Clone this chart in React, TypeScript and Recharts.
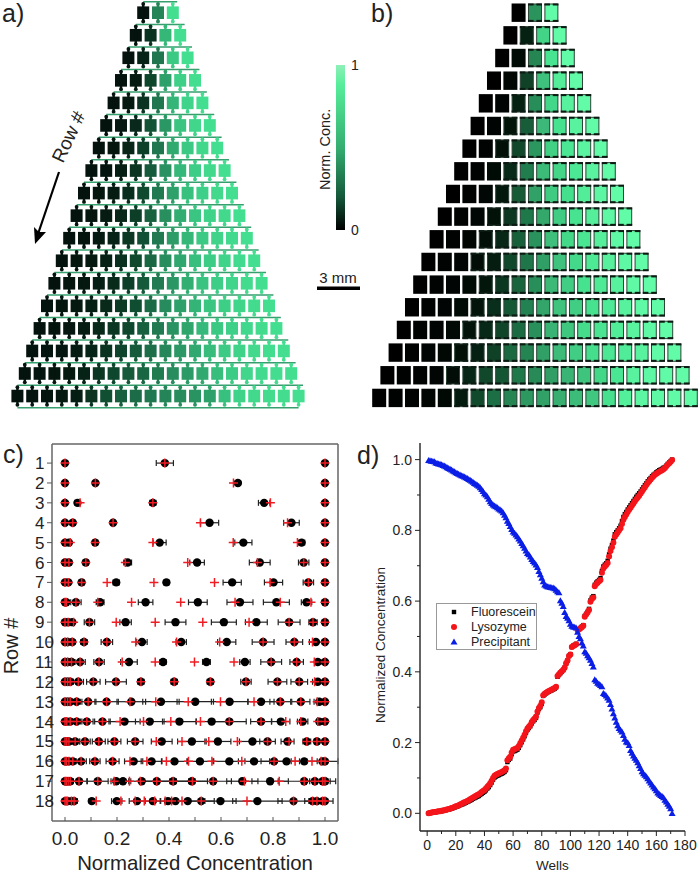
import React from "react";
import {
  Bar,
  BarChart,
  ErrorBar,
  Legend,
  ReferenceLine,
  Scatter,
  ScatterChart,
  XAxis,
  YAxis,
} from "recharts";

const FONT = '"Liberation Sans", Arial, sans-serif';
const INK = "#222";

// panel c: one list per row, wells from left to right
const measuredRows = [
  [0, 0.384, 1],
  [0, 0.117, 0.665, 1],
  [0, 0.048, 0.338, 0.766, 1],
  [0, 0.03, 0.185, 0.556, 0.871, 1],
  [0, 0.015, 0.116, 0.364, 0.686, 0.91, 1],
  [0, 0.015, 0.08, 0.241, 0.508, 0.749, 0.918, 1],
  [0, 0.013, 0.064, 0.197, 0.39, 0.643, 0.802, 0.936, 1],
  [0, 0.005, 0.042, 0.135, 0.31, 0.511, 0.673, 0.813, 0.929, 1],
  [0, 0.012, 0.028, 0.094, 0.233, 0.425, 0.611, 0.736, 0.862, 0.954, 1],
  [0, 0.01, 0.028, 0.073, 0.161, 0.296, 0.447, 0.622, 0.762, 0.882, 0.965, 1],
  [0, 0.01, 0.025, 0.058, 0.131, 0.246, 0.377, 0.544, 0.692, 0.793, 0.891, 0.972, 1],
  [0, 0.01, 0.02, 0.051, 0.109, 0.196, 0.292, 0.42, 0.559, 0.696, 0.817, 0.901, 0.972, 1],
  [0, 0.01, 0.02, 0.045, 0.089, 0.16, 0.255, 0.369, 0.501, 0.633, 0.754, 0.828, 0.907, 0.978, 1],
  [0, 0.007, 0.02, 0.045, 0.084, 0.144, 0.229, 0.326, 0.44, 0.564, 0.632, 0.754, 0.83, 0.914, 0.978, 1],
  [0, 0.007, 0.015, 0.039, 0.077, 0.13, 0.19, 0.27, 0.372, 0.488, 0.588, 0.721, 0.779, 0.856, 0.93, 0.969, 1],
  [0, 0.005, 0.015, 0.03, 0.062, 0.115, 0.183, 0.264, 0.333, 0.421, 0.519, 0.632, 0.727, 0.804, 0.852, 0.92, 0.99, 1],
  [0, 0.005, 0.012, 0.02, 0.054, 0.126, 0.197, 0.223, 0.295, 0.353, 0.416, 0.488, 0.57, 0.682, 0.789, 0.92, 0.961, 0.991, 1],
  [0, 0.005, 0.01, 0.025, 0.035, 0.103, 0.199, 0.277, 0.338, 0.396, 0.425, 0.472, 0.524, 0.598, 0.74, 0.879, 0.952, 0.969, 0.991, 1],
];

const measuredErrors = [
  [0, 0.033, 0],
  [0, 0.008, 0.01, 0],
  [0, 0.01, 0.012, 0.022, 0],
  [0, 0.01, 0.008, 0.035, 0.03, 0],
  [0, 0.01, 0.01, 0.025, 0.033, 0.012, 0],
  [0, 0.01, 0.01, 0.015, 0.028, 0.04, 0.02, 0],
  [0, 0.008, 0.01, 0.012, 0.01, 0.035, 0.035, 0.02, 0],
  [0, 0.005, 0.02, 0.015, 0.028, 0.036, 0.05, 0.05, 0.02, 0],
  [0, 0.01, 0.008, 0.02, 0.022, 0.04, 0.048, 0.042, 0.042, 0.016, 0],
  [0, 0.006, 0.01, 0.012, 0.022, 0.02, 0.02, 0.035, 0.042, 0.032, 0.025, 0],
  [0, 0.006, 0.012, 0.02, 0.02, 0.032, 0.012, 0.015, 0.02, 0.04, 0.026, 0.012, 0],
  [0, 0.006, 0.012, 0.02, 0.026, 0.04, 0.012, 0.012, 0.012, 0.02, 0.036, 0.032, 0.02, 0],
  [0, 0.006, 0.01, 0.02, 0.03, 0.045, 0.055, 0.07, 0.07, 0.07, 0.05, 0.04, 0.035, 0.02, 0],
  [0, 0.006, 0.01, 0.02, 0.024, 0.03, 0.06, 0.055, 0.065, 0.06, 0.065, 0.04, 0.035, 0.02, 0.01, 0],
  [0, 0.005, 0.01, 0.016, 0.02, 0.025, 0.025, 0.03, 0.04, 0.055, 0.05, 0.05, 0.03, 0.025, 0.015, 0.01, 0],
  [0, 0.005, 0.01, 0.012, 0.02, 0.02, 0.025, 0.035, 0.04, 0.05, 0.05, 0.06, 0.06, 0.05, 0.05, 0.05, 0.06, 0],
  [0, 0.005, 0.01, 0.012, 0.03, 0.04, 0.02, 0.03, 0.05, 0.05, 0.06, 0.06, 0.07, 0.06, 0.07, 0.1, 0.05, 0.05, 0],
  [0, 0.005, 0.01, 0.012, 0.012, 0.01, 0.02, 0.03, 0.03, 0.03, 0.04, 0.05, 0.05, 0.06, 0.095, 0.06, 0.03, 0.03, 0.04, 0],
];

const modelRows = [
  [0, 0.384, 1],
  [0, 0.117, 0.648, 1],
  [0, 0.058, 0.338, 0.79, 1],
  [0, 0.03, 0.185, 0.521, 0.856, 1],
  [0, 0.02, 0.116, 0.338, 0.647, 0.894, 1],
  [0, 0.015, 0.08, 0.232, 0.472, 0.74, 0.918, 1],
  [0, 0.013, 0.064, 0.162, 0.342, 0.575, 0.789, 0.936, 1],
  [0, 0.005, 0.042, 0.126, 0.256, 0.445, 0.654, 0.828, 0.946, 1],
  [0, 0.012, 0.033, 0.094, 0.197, 0.347, 0.53, 0.708, 0.862, 0.954, 1],
  [0, 0.01, 0.028, 0.073, 0.161, 0.272, 0.429, 0.595, 0.762, 0.882, 0.952, 1],
  [0, 0.01, 0.025, 0.058, 0.131, 0.22, 0.347, 0.498, 0.65, 0.793, 0.891, 0.959, 1],
  [0, 0.01, 0.02, 0.051, 0.109, 0.196, 0.292, 0.42, 0.559, 0.696, 0.817, 0.901, 0.96, 1],
  [0, 0.01, 0.02, 0.045, 0.089, 0.16, 0.25, 0.349, 0.474, 0.598, 0.727, 0.828, 0.907, 0.97, 1],
  [0, 0.007, 0.02, 0.045, 0.084, 0.144, 0.212, 0.302, 0.407, 0.521, 0.632, 0.754, 0.849, 0.907, 0.972, 1],
  [0, 0.007, 0.015, 0.039, 0.077, 0.13, 0.19, 0.27, 0.351, 0.45, 0.553, 0.663, 0.779, 0.862, 0.93, 0.969, 1],
  [0, 0.005, 0.015, 0.03, 0.062, 0.115, 0.183, 0.25, 0.315, 0.39, 0.475, 0.565, 0.68, 0.804, 0.885, 0.95, 0.985, 1],
  [0, 0.005, 0.012, 0.02, 0.054, 0.126, 0.189, 0.248, 0.29, 0.353, 0.416, 0.49, 0.57, 0.69, 0.824, 0.92, 0.961, 0.991, 1],
  [0, 0.005, 0.01, 0.025, 0.035, 0.12, 0.215, 0.27, 0.305, 0.345, 0.385, 0.41, 0.45, 0.524, 0.7, 0.879, 0.952, 0.969, 0.991, 1],
];

// panel d: wells 1 to 171
const lysozyme = [
  0, 0.001, 0.002, 0.003, 0.004, 0.004, 0.005, 0.006, 0.006, 0.007,
  0.008, 0.009, 0.01, 0.011, 0.012, 0.013, 0.015, 0.016, 0.018, 0.02,
  0.021, 0.023, 0.025, 0.027, 0.029, 0.031, 0.033, 0.035, 0.037, 0.04,
  0.042, 0.045, 0.047, 0.05, 0.052, 0.054, 0.057, 0.06, 0.063, 0.066,
  0.07, 0.075, 0.079, 0.085, 0.092, 0.1, 0.106, 0.109, 0.111, 0.113,
  0.115, 0.117, 0.119, 0.122, 0.127, 0.15, 0.156, 0.16, 0.172, 0.18,
  0.181, 0.183, 0.185, 0.19, 0.198, 0.206, 0.214, 0.222, 0.232, 0.24,
  0.245, 0.25, 0.258, 0.264, 0.268, 0.274, 0.288, 0.298, 0.304, 0.314,
  0.334, 0.338, 0.341, 0.344, 0.346, 0.348, 0.35, 0.352, 0.354, 0.358,
  0.388, 0.393, 0.398, 0.402, 0.406, 0.412, 0.424, 0.432, 0.445, 0.449,
  0.47, 0.473, 0.475, 0.478, 0.518, 0.52, 0.523, 0.526, 0.53, 0.556,
  0.562, 0.568, 0.575, 0.598, 0.606, 0.61, 0.642, 0.648, 0.652, 0.656,
  0.66, 0.68, 0.692, 0.698, 0.702, 0.708, 0.726, 0.742, 0.752, 0.765,
  0.782, 0.788, 0.794, 0.8, 0.806, 0.818, 0.83, 0.838, 0.845, 0.852,
  0.858, 0.864, 0.87, 0.876, 0.882, 0.888, 0.893, 0.898, 0.904, 0.91,
  0.916, 0.922, 0.928, 0.934, 0.939, 0.944, 0.949, 0.953, 0.957, 0.96,
  0.963, 0.966, 0.968, 0.97, 0.973, 0.976, 0.981, 0.986, 0.99, 0.994, 0.999,
];

const fluorescein = [
  0, 0.001, 0.002, 0.002, 0.003, 0.004, 0.004, 0.005, 0.006, 0.006,
  0.007, 0.008, 0.009, 0.01, 0.011, 0.012, 0.013, 0.015, 0.016, 0.018,
  0.019, 0.021, 0.023, 0.025, 0.026, 0.028, 0.03, 0.032, 0.034, 0.036,
  0.038, 0.041, 0.043, 0.045, 0.047, 0.049, 0.052, 0.055, 0.058, 0.061,
  0.065, 0.07, 0.074, 0.08, 0.087, 0.095, 0.101, 0.104, 0.106, 0.108,
  0.11, 0.112, 0.114, 0.117, 0.122, 0.145, 0.151, 0.155, 0.167, 0.175,
  0.176, 0.178, 0.18, 0.185, 0.193, 0.201, 0.209, 0.218, 0.228, 0.236,
  0.241, 0.246, 0.254, 0.26, 0.264, 0.27, 0.285, 0.295, 0.3, 0.31,
  0.332, 0.336, 0.339, 0.342, 0.344, 0.346, 0.348, 0.35, 0.352, 0.356,
  0.386, 0.391, 0.396, 0.4, 0.405, 0.411, 0.423, 0.432, 0.445, 0.45,
  0.47, 0.474, 0.476, 0.479, 0.518, 0.521, 0.524, 0.528, 0.532, 0.558,
  0.564, 0.57, 0.578, 0.602, 0.61, 0.614, 0.646, 0.652, 0.656, 0.66,
  0.665, 0.685, 0.698, 0.703, 0.707, 0.714, 0.732, 0.748, 0.758, 0.771,
  0.789, 0.795, 0.8, 0.806, 0.813, 0.826, 0.838, 0.846, 0.852, 0.859,
  0.865, 0.871, 0.877, 0.883, 0.889, 0.895, 0.9, 0.905, 0.91, 0.916,
  0.922, 0.928, 0.933, 0.939, 0.944, 0.948, 0.953, 0.957, 0.96, 0.964,
  0.967, 0.97, 0.972, 0.974, 0.977, 0.979, 0.983, 0.988, 0.992, 0.996, 1,
];

const precipitant = [
  0.998, 0.997, 0.996, 0.995, 0.994, 0.991, 0.989, 0.988, 0.987, 0.986,
  0.984, 0.982, 0.98, 0.977, 0.975, 0.973, 0.971, 0.968, 0.966, 0.963,
  0.961, 0.959, 0.957, 0.955, 0.953, 0.951, 0.949, 0.947, 0.944, 0.942,
  0.939, 0.936, 0.933, 0.931, 0.928, 0.925, 0.921, 0.916, 0.91, 0.904,
  0.9, 0.895, 0.888, 0.881, 0.876, 0.872, 0.869, 0.867, 0.864, 0.861,
  0.858, 0.855, 0.85, 0.843, 0.836, 0.826, 0.82, 0.811, 0.803, 0.796,
  0.792, 0.787, 0.782, 0.776, 0.77, 0.763, 0.757, 0.75, 0.742, 0.735,
  0.731, 0.725, 0.718, 0.712, 0.708, 0.702, 0.695, 0.684, 0.675, 0.665,
  0.655, 0.646, 0.643, 0.641, 0.64, 0.639, 0.638, 0.637, 0.635, 0.631,
  0.627, 0.624, 0.601, 0.594, 0.585, 0.568, 0.557, 0.552, 0.545, 0.535,
  0.529, 0.527, 0.526, 0.524, 0.512, 0.5, 0.494, 0.482, 0.473, 0.457,
  0.453, 0.446, 0.44, 0.433, 0.424, 0.414, 0.378, 0.374, 0.368, 0.365,
  0.362, 0.358, 0.339, 0.336, 0.332, 0.326, 0.32, 0.308, 0.295, 0.282,
  0.27, 0.258, 0.248, 0.24, 0.235, 0.23, 0.22, 0.21, 0.202, 0.2,
  0.192, 0.178, 0.17, 0.162, 0.156, 0.15, 0.143, 0.135, 0.127, 0.118,
  0.112, 0.108, 0.104, 0.098, 0.092, 0.086, 0.08, 0.075, 0.07, 0.064,
  0.058, 0.054, 0.051, 0.048, 0.044, 0.037, 0.032, 0.026, 0.02, 0.013, 0,
];

const rowTicks = measuredRows.map((_, i) => i + 1);
const concTicks = [0, 0.1, 0.2, 0.3, 0.4, 0.5, 0.6, 0.7, 0.8, 0.9, 1];
const wellTicks = [0, 10, 20, 30, 40, 50, 60, 70, 80, 90, 100, 110, 120, 130, 140, 150, 160, 170, 180];
const normTicks = [0, 0.1, 0.2, 0.3, 0.4, 0.5, 0.6, 0.7, 0.8, 0.9, 1];
const legendNames = ["Fluorescein", "Lysozyme", "Precipitant"];

const chipColors: [number, number[]][] = [
  [0, [4, 19, 13]],
  [0.2, [15, 74, 47]],
  [0.4, [39, 138, 92]],
  [0.7, [56, 192, 126]],
  [1, [68, 222, 144]],
];
const photoColors: [number, number[]][] = [
  [0, [0, 0, 0]],
  [0.1, [3, 25, 13]],
  [0.3, [31, 122, 75]],
  [0.5, [60, 184, 119]],
  [0.75, [70, 226, 143]],
  [1, [98, 251, 167]],
];

function mapColor(stops: [number, number[]][], v: number) {
  for (let i = 1; i < stops.length; i++) {
    if (v <= stops[i][0]) {
      const [a, ca] = stops[i - 1];
      const [b, cb] = stops[i];
      const t = (v - a) / (b - a);
      const c = ca.map((n, k) => Math.round(n + (cb[k] - n) * t));
      return `rgb(${c.join(",")})`;
    }
  }
  return "rgb(98,251,167)";
}

const wells = (rows: number[][]) =>
  rows.flatMap((vals, i) =>
    vals.map((v, j) => ({ x: j - (vals.length - 1) / 2, y: i + 1, v }))
  );

const dots = measuredRows.flatMap((vals, i) =>
  vals.map((x, j) => ({ x, y: i + 1, err: measuredErrors[i][j] }))
);
const crosses = modelRows.flatMap((vals, i) =>
  vals.map((x) => ({ x, y: i + 1 }))
);
const curve = (vals: number[]) => vals.map((y, i) => ({ x: i + 1, y }));

const ChipWell = (p: any) => {
  const c = mapColor(chipColors, p.payload.v);
  return (
    <g>
      <rect x={p.cx - 6} y={p.cy - 6.3} width={12} height={12.6} fill={c} />
      <rect x={p.cx - 1.2} y={p.cy - 10} width={2.4} height={20} fill={c} />
      <circle cx={p.cx} cy={p.cy - 8.8} r={1.9} fill={c} />
      <circle cx={p.cx} cy={p.cy + 8.8} r={1.9} fill={c} />
    </g>
  );
};

const PhotoWell = (p: any) => {
  const c = mapColor(photoColors, p.payload.v);
  if (p.payload.v <= 0.05) {
    return <rect x={p.cx - 7} y={p.cy - 9.2} width={14} height={18.4} fill={c} />;
  }
  return (
    <g>
      <rect x={p.cx - 6.5} y={p.cy - 8.7} width={13} height={17.4} fill={c} stroke="#2c4436" strokeWidth={1} />
      <rect x={p.cx - 7} y={p.cy - 9.2} width={5.6} height={2} fill="#0b1a12" />
      <rect x={p.cx + 1.4} y={p.cy - 9.2} width={5.6} height={2} fill="#0b1a12" />
      <rect x={p.cx - 7} y={p.cy + 7.2} width={5.6} height={2} fill="#0b1a12" />
      <rect x={p.cx + 1.4} y={p.cy + 7.2} width={5.6} height={2} fill="#0b1a12" />
    </g>
  );
};

const DotMark = (p: any) => <circle cx={p.cx} cy={p.cy} r={4.2} fill="#000" />;
const CrossMark = (p: any) => (
  <path
    d={`M${p.cx - 4.5},${p.cy}H${p.cx + 4.5}M${p.cx},${p.cy - 4.5}V${p.cy + 4.5}`}
    stroke="#f01c24"
    strokeWidth={1.5}
    fill="none"
  />
);
const SquareMark = (p: any) => (
  <rect x={p.cx - 2.2} y={p.cy - 2.2} width={4.4} height={4.4} fill="#000" />
);
const RoundMark = (p: any) => <circle cx={p.cx} cy={p.cy} r={3} fill="#f4151b" />;
const TriangleMark = (p: any) => (
  <path
    d={`M${p.cx},${p.cy - 3.4}L${p.cx + 3.5},${p.cy + 2.6}H${p.cx - 3.5}Z`}
    fill="#0a1ee6"
  />
);

const ConcTick = (p: any) => {
  const v = p.payload.value;
  const major = Math.round(v * 10) % 2 === 0;
  return (
    <g>
      <line x1={p.x} x2={p.x} y1={p.y - 4} y2={p.y} stroke="#555" />
      {major && (
        <text x={p.x} y={p.y + 24} textAnchor="middle" fontSize={19} fontFamily={FONT} fill={INK}>
          {v.toFixed(1)}
        </text>
      )}
    </g>
  );
};

const RowTick = (p: any) => (
  <g>
    <line x1={p.x - 5} x2={p.x} y1={p.y} y2={p.y} stroke="#555" />
    <text x={35} y={p.y + 6} fontSize={17} fontFamily={FONT} fill={INK}>
      {p.payload.value}
    </text>
  </g>
);

const WellTick = (p: any) => {
  const v = p.payload.value;
  const major = v % 20 === 0;
  return (
    <g>
      <line x1={p.x} x2={p.x} y1={p.y} y2={p.y + (major ? 5 : 3)} stroke={INK} />
      {major && (
        <text x={p.x} y={p.y + 19} textAnchor="middle" fontSize={14} fontFamily={FONT} fill={INK}>
          {v}
        </text>
      )}
    </g>
  );
};

const NormTick = (p: any) => {
  const v = p.payload.value;
  const major = Math.round(v * 10) % 2 === 0;
  return (
    <g>
      <line x1={p.x - (major ? 5 : 3)} x2={p.x} y1={p.y} y2={p.y} stroke={INK} />
      {major && (
        <text x={p.x - 8} y={p.y + 5} textAnchor="end" fontSize={14} fontFamily={FONT} fill={INK}>
          {v.toFixed(1)}
        </text>
      )}
    </g>
  );
};

const FigureLegend = () => (
  <div
    style={{
      width: 101,
      height: 47,
      boxSizing: "border-box",
      border: "1.5px solid #999",
      background: "#fff",
      fontFamily: FONT,
      fontSize: 12.5,
      color: INK,
      position: "relative",
    }}
  >
    {legendNames.map((name, i) => (
      <div key={name} style={{ position: "absolute", left: 34, top: 0.5 + i * 15.3, lineHeight: "15px" }}>
        {name}
      </div>
    ))}
    <svg width={30} height={45} style={{ position: "absolute", left: 0, top: 0 }}>
      <SquareMark cx={17} cy={8} />
      <RoundMark cx={17} cy={23} />
      <TriangleMark cx={17} cy={38} />
    </svg>
  </div>
);

export default function App() {
  return (
    <div style={{ position: "absolute", left: 0, top: 0, width: 698, height: 873, background: "#fff", overflow: "hidden" }}>
      {/* a) chip layout */}
      <div style={{ position: "absolute", left: 0, top: 0 }}>
        <ScatterChart width={320} height={430} margin={{ top: 0, right: 0, bottom: 0, left: 0 }}>
          <XAxis type="number" dataKey="x" hide domain={[-10.676, 10.946]} />
          <YAxis type="number" dataKey="y" hide reversed domain={[0.437, 19.506]} />
          {measuredRows.map((vals, i) => (
            <ReferenceLine
              key={i}
              stroke="#35a06e"
              strokeWidth={1.5}
              segment={[
                { x: -(vals.length - 1) / 2, y: i + 0.52 },
                { x: (vals.length - 1) / 2 + 0.3, y: i + 0.52 },
              ]}
            />
          ))}
          <ReferenceLine
            stroke="#35a06e"
            strokeWidth={1.5}
            segment={[
              { x: -9.5, y: 18.52 },
              { x: 9.5, y: 18.52 },
            ]}
          />
          <Scatter data={wells(modelRows)} shape={ChipWell} isAnimationActive={false} />
        </ScatterChart>
      </div>

      {/* b) photo of the filled chip */}
      <div style={{ position: "absolute", left: 360, top: 0 }}>
        <ScatterChart width={338} height={430} margin={{ top: 0, right: 0, bottom: 0, left: 0 }}>
          <XAxis type="number" dataKey="x" hide domain={[-10.67, 9.94]} />
          <YAxis type="number" dataKey="y" hide reversed domain={[0.44, 19.416]} />
          <Scatter data={wells(measuredRows)} shape={PhotoWell} isAnimationActive={false} />
        </ScatterChart>
      </div>

      {/* colour scale */}
      <div style={{ position: "absolute", left: 320, top: 55 }}>
        <BarChart
          width={50}
          height={185}
          data={[{ name: "scale", value: 1 }]}
          barCategoryGap={0}
          margin={{ top: 10, right: 0, bottom: 10, left: 16 }}
        >
          <defs>
            <linearGradient id="normScale" x1="0" y1="0" x2="0" y2="1">
              <stop offset="0" stopColor="#8ff0b8" />
              <stop offset="0.12" stopColor="#56ee9a" />
              <stop offset="0.5" stopColor="#34ae70" />
              <stop offset="0.8" stopColor="#14583a" />
              <stop offset="1" stopColor="#000" />
            </linearGradient>
          </defs>
          <XAxis dataKey="name" hide />
          <YAxis
            orientation="right"
            width={25}
            domain={[0, 1]}
            ticks={[0, 1]}
            axisLine={false}
            tickLine={false}
            tickMargin={0}
            tick={{ fontSize: 14, fontFamily: FONT, fill: INK }}
          />
          <Bar dataKey="value" fill="url(#normScale)" isAnimationActive={false} />
        </BarChart>
      </div>

      {/* c) concentration per row */}
      <div style={{ position: "absolute", left: 0, top: 440 }}>
        <ScatterChart width={350} height={433} margin={{ top: 4, right: 12, bottom: 0, left: 0 }}>
          <XAxis
            xAxisId="top"
            type="number"
            orientation="top"
            height={1}
            mirror
            domain={[-0.05, 1.05]}
            ticks={concTicks}
            tick={false}
            tickSize={4}
            stroke="#666"
            strokeWidth={1.5}
          />
          <YAxis
            yAxisId="right"
            type="number"
            orientation="right"
            width={1}
            mirror
            reversed
            domain={[0.04, 19]}
            ticks={rowTicks}
            tick={false}
            tickSize={4}
            stroke="#666"
            strokeWidth={1.5}
          />
          <XAxis
            type="number"
            dataKey="x"
            height={52}
            domain={[-0.05, 1.05]}
            ticks={concTicks}
            interval={0}
            tickLine={false}
            tickSize={0}
            tickMargin={0}
            tick={ConcTick}
            stroke="#666"
            strokeWidth={1.5}
            label={{ value: "Normalized Concentration", position: "insideBottom", offset: 3, fontSize: 20.4, fontFamily: FONT, fill: INK }}
          />
          <YAxis
            type="number"
            dataKey="y"
            width={52}
            reversed
            domain={[0.04, 19]}
            ticks={rowTicks}
            interval={0}
            tickLine={false}
            tickSize={0}
            tickMargin={0}
            stroke="#666"
            strokeWidth={1.5}
            tick={RowTick}
          />
          <Scatter data={dots} shape={DotMark} isAnimationActive={false}>
            <ErrorBar dataKey="err" direction="x" width={3} stroke="#222" strokeWidth={1.2} />
          </Scatter>
          <Scatter data={crosses} shape={CrossMark} isAnimationActive={false} />
        </ScatterChart>
      </div>

      {/* d) concentration per well */}
      <div style={{ position: "absolute", left: 370, top: 435 }}>
        <ScatterChart width={328} height={438} margin={{ top: 8, right: 13, bottom: 0, left: 0 }}>
          <XAxis
            type="number"
            dataKey="x"
            height={42}
            domain={[-5, 180]}
            ticks={wellTicks}
            interval={0}
            tickLine={false}
            tickSize={0}
            tickMargin={0}
            stroke={INK}
            strokeWidth={1.4}
            tick={WellTick}
            label={{ value: "Wells", position: "insideBottom", offset: 3, fontSize: 13.5, fontFamily: FONT, fill: INK }}
          />
          <YAxis
            type="number"
            dataKey="y"
            width={50}
            domain={[-0.05, 1.047]}
            ticks={normTicks}
            interval={0}
            tickLine={false}
            tickSize={0}
            tickMargin={0}
            stroke={INK}
            strokeWidth={1.4}
            tick={NormTick}
          />
          <Legend
            layout="vertical"
            align="center"
            verticalAlign="middle"
            content={FigureLegend}
            wrapperStyle={{ position: "absolute", left: 66, top: 168, width: 101 }}
          />
          <Scatter name="Fluorescein" data={curve(fluorescein)} shape={SquareMark} isAnimationActive={false} />
          <Scatter name="Lysozyme" data={curve(lysozyme)} shape={RoundMark} isAnimationActive={false} />
          <Scatter name="Precipitant" data={curve(precipitant)} shape={TriangleMark} isAnimationActive={false} />
        </ScatterChart>
      </div>

      {/* panel letters and annotations */}
      <svg width={698} height={873} style={{ position: "absolute", left: 0, top: 0, pointerEvents: "none" }} fontFamily={FONT} fill={INK}>
        <text x={2} y={22} fontSize={25}>a)</text>
        <text x={371} y={22} fontSize={25}>b)</text>
        <text x={3} y={463} fontSize={25}>c)</text>
        <text x={357} y={464} fontSize={25}>d)</text>
        <text x={0} y={0} fontSize={19} transform="translate(63,164) rotate(-65)">Row #</text>
        <line x1={59} y1={172} x2={38} y2={234} stroke="#000" strokeWidth={2.2} />
        <path d="M35,244 L34,227 L39,232 L46,232 Z" fill="#000" />
        <text x={0} y={0} fontSize={14.5} transform="translate(330,190) rotate(-90)">Norm. Conc.</text>
        <text x={338} y={283} fontSize={15} textAnchor="middle">3 mm</text>
        <rect x={317} y={286.5} width={43} height={3.5} fill="#000" />
        <text x={0} y={0} fontSize={20} textAnchor="middle" transform="translate(18,646) rotate(-90)">Row #</text>
        <text x={0} y={0} fontSize={13.5} textAnchor="middle" transform="translate(385,645) rotate(-90)">Normalized Concentration</text>
      </svg>
    </div>
  );
}
